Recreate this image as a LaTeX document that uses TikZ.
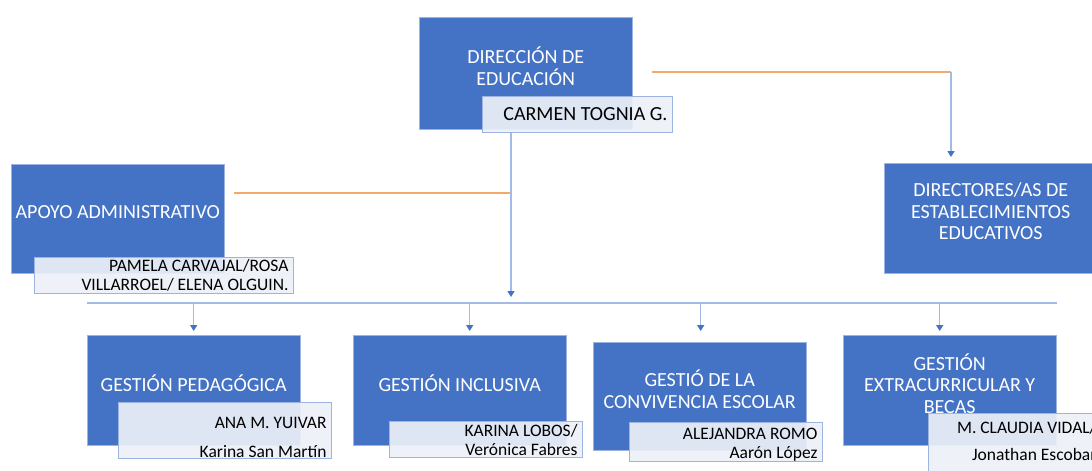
\documentclass[tikz,border=0pt]{standalone}
\usepackage{fontspec}
\setmainfont{Carlito}
\usetikzlibrary{arrows.meta,positioning,calc}
\definecolor{ublue}{HTML}{4472C4}
\definecolor{uedge}{HTML}{9DB3E2}
\definecolor{pfill}{HTML}{EDF0F8}
\definecolor{uline}{HTML}{A3BAE6}
\definecolor{uorange}{HTML}{F4A86A}
\tikzset{
  unit/.style={draw=uedge,fill=ublue,text=white,anchor=north west,align=flush center,inner sep=0pt,
    minimum width=213pt,minimum height=110pt,text depth=14pt,font=\fontsize{20}{21.5}\selectfont},
  person/.style={draw=uedge,line width=1pt,fill=pfill,fill opacity=0.92,text opacity=1,anchor=north west,
    align=flush right,inner xsep=5pt,inner ysep=0pt,font=\fontsize{17.5}{19}\selectfont},
  conn/.style={draw=uline,line width=1.5pt},
  tip/.style={-{Triangle[width=7pt,length=6pt,color=ublue]}},
  orangeline/.style={draw=uorange,line width=1.2pt}
}
\begin{document}
\begin{tikzpicture}[x=1pt,y=-1pt]
\useasboundingbox (0,0) rectangle (1092,471);
\fill[white] (0,0) rectangle (1092,471);
\clip (0,0) rectangle (1092,471);
% unidades
\node[unit,minimum height=112pt] (dir) at (419,17) {DIRECCIÓN DE\\EDUCACIÓN};
\node[unit,minimum height=109pt] (apoyo) at (11,164) {APOYO ADMINISTRATIVO};
\node[unit] (dirs) at (884,163) {DIRECTORES/AS DE\\ESTABLECIMIENTOS\\EDUCATIVOS};
\node[unit] (ped) at (87,335) {GESTIÓN PEDAGÓGICA};
\node[unit] (inc) at (353,335) {GESTIÓN INCLUSIVA};
\node[unit,minimum height=108pt] (conv) at (593,342) {GESTIÓ DE LA\\CONVIVENCIA ESCOLAR};
\node[unit] (extra) at (843,335) {GESTIÓN\\EXTRACURRICULAR Y\\BECAS};
% responsables
\node[person,font=\fontsize{20}{21.5}\selectfont,text width=180pt,minimum height=36pt] (carmen) at (482,96) {CARMEN TOGNIA G.};
\node[person,text width=249pt,minimum height=36pt] (pamela) at (34,257) {PAMELA CARVAJAL/ROSA\\VILLARROEL/ ELENA OLGUIN.};
\node[person,text width=203pt,minimum height=56pt] (ana) at (118,402) {\rule{0pt}{26pt}ANA M. YUIVAR\\[10pt]Karina San Martín};
\node[person,text width=183pt,minimum height=36pt] (karina) at (389,421) {KARINA LOBOS/\\Verónica Fabres};
\node[person,text width=183pt,minimum height=36pt] (alejandra) at (629,422) {\rule{0pt}{17pt}ALEJANDRA ROMO\\Aarón López};
\node[person,text width=163pt,minimum height=70pt] (claudia) at (928,413) {M. CLAUDIA VIDAL/\\[8pt]Jonathan Escobar\rule[-15pt]{0pt}{15pt}};
% conectores
\coordinate (corner) at (951,72);
\coordinate (trunk) at (511,303);
\coordinate (busL) at (87,303);
\coordinate (busR) at (1057,303);
\draw[orangeline] ([xshift=20pt]dir.east |- corner) -- (corner);
\draw[conn,tip] (corner) -- ($(dirs.north -| corner)+(0,-6)$);
\draw[orangeline] ($(apoyo.east |- 0,193)+(10,0)$) -- (trunk |- 0,193);
\draw[conn,tip] (carmen.south -| trunk) -- ($(trunk)+(0,-6)$);
\draw[conn] (busL) -- (busR);
\foreach \n/\s in {ped/0,inc/10,conv/1,extra/-10}
  \draw[conn,tip] ($(\n.north |- busL)+(\s,0)$) -- ++(0,28);
\end{tikzpicture}
\end{document}
